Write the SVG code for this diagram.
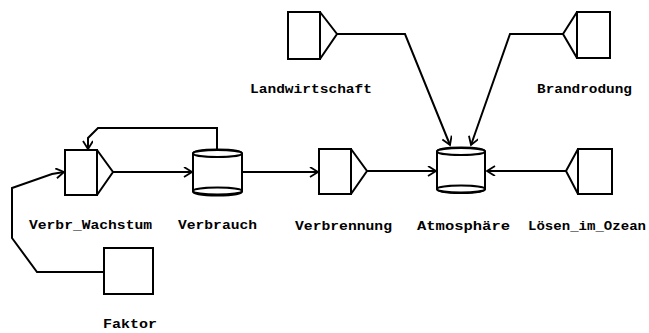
<svg xmlns="http://www.w3.org/2000/svg" width="649" height="333" viewBox="0 0 649 333">
  <defs>
    <marker id="arrow" markerUnits="userSpaceOnUse" markerWidth="12" markerHeight="12" refX="9" refY="5" orient="auto">
      <path d="M1,0 L9,5 L1,10" fill="none" stroke="#000" stroke-width="1.8"/>
    </marker>
    <style>
      .shape { fill: #fff; stroke: #000; stroke-width: 2; }
      .line { fill: none; stroke: #000; stroke-width: 2; }
      .label { font-family: "Liberation Mono", "DejaVu Sans Mono", monospace; font-weight: bold; font-size: 12px; fill: #000; }
    </style>
  </defs>
  <rect width="649" height="333" fill="#fff"/>

  <!-- connectors -->
  <g id="connectors">
    <polyline class="line" points="113,172 192,172" marker-end="url(#arrow)"/>
    <polyline class="line" points="217,151 217,128 98,128 88,138 88,149" marker-end="url(#arrow)"/>
    <polyline class="line" points="242,172 318,172" marker-end="url(#arrow)"/>
    <polyline class="line" points="367,171 436,171" marker-end="url(#arrow)"/>
    <polyline class="line" points="566,171 487,171" marker-end="url(#arrow)"/>
    <polyline class="line" points="337,34 405,34 450,145" marker-end="url(#arrow)"/>
    <polyline class="line" points="563,34 510,34 471,145" marker-end="url(#arrow)"/>
    <polyline class="line" points="104,272 37,272 12,238 12,188 52,174 64,172" marker-end="url(#arrow)"/>
  </g>

  <!-- flow: Verbr_Wachstum -->
  <g id="Verbr_Wachstum">
    <rect class="shape" x="65" y="150" width="32" height="45"/>
    <polyline class="line" points="97,150 113,172 97,195"/>
    <text class="label" x="29" y="229" textLength="123" lengthAdjust="spacingAndGlyphs">Verbr_Wachstum</text>
  </g>

  <!-- stock: Verbrauch -->
  <g id="Verbrauch">
    <path class="shape" d="M193,153.5 L193,191.5 A24.5,4 0 0 0 242,191.5 L242,153.5 A24.5,4 0 0 0 193,153.5 Z"/>
    <ellipse class="shape" cx="217.5" cy="153.5" rx="24.5" ry="3.5"/>
    <ellipse class="shape" cx="217.5" cy="191" rx="24.5" ry="3.5"/>
    <text class="label" x="178" y="229" textLength="79" lengthAdjust="spacingAndGlyphs">Verbrauch</text>
  </g>

  <!-- flow: Verbrennung -->
  <g id="Verbrennung">
    <rect class="shape" x="319" y="149" width="32" height="45"/>
    <polyline class="line" points="351,149 367,171 351,194"/>
    <text class="label" x="295" y="230" textLength="97" lengthAdjust="spacingAndGlyphs">Verbrennung</text>
  </g>

  <!-- stock: Atmosphäre -->
  <g id="Atmosphaere">
    <path class="shape" d="M437,151.5 L437,189 A24,4 0 0 0 485,189 L485,151.5 A24,4 0 0 0 437,151.5 Z"/>
    <ellipse class="shape" cx="461" cy="151.5" rx="24" ry="3.5"/>
    <ellipse class="shape" cx="461" cy="189" rx="24" ry="3.5"/>
    <text class="label" x="417" y="230" textLength="93" lengthAdjust="spacingAndGlyphs">Atmosphäre</text>
  </g>

  <!-- flow: Lösen_im_Ozean -->
  <g id="Loesen_im_Ozean">
    <rect class="shape" x="578" y="149" width="34" height="45"/>
    <polyline class="line" points="578,149 566,171 578,194"/>
    <text class="label" x="528" y="230" textLength="118" lengthAdjust="spacingAndGlyphs">Lösen_im_Ozean</text>
  </g>

  <!-- flow: Landwirtschaft -->
  <g id="Landwirtschaft">
    <rect class="shape" x="288" y="12" width="32" height="47"/>
    <polyline class="line" points="320,12 337,34 320,59"/>
    <text class="label" x="250" y="93" textLength="122" lengthAdjust="spacingAndGlyphs">Landwirtschaft</text>
  </g>

  <!-- flow: Brandrodung -->
  <g id="Brandrodung">
    <rect class="shape" x="577" y="12" width="33" height="46"/>
    <polyline class="line" points="577,12 563,34 577,58"/>
    <text class="label" x="537" y="93" textLength="95" lengthAdjust="spacingAndGlyphs">Brandrodung</text>
  </g>

  <!-- constant: Faktor -->
  <g id="Faktor">
    <rect class="shape" x="104" y="248" width="49" height="46"/>
    <text class="label" x="103" y="328" textLength="54" lengthAdjust="spacingAndGlyphs">Faktor</text>
  </g>
</svg>
